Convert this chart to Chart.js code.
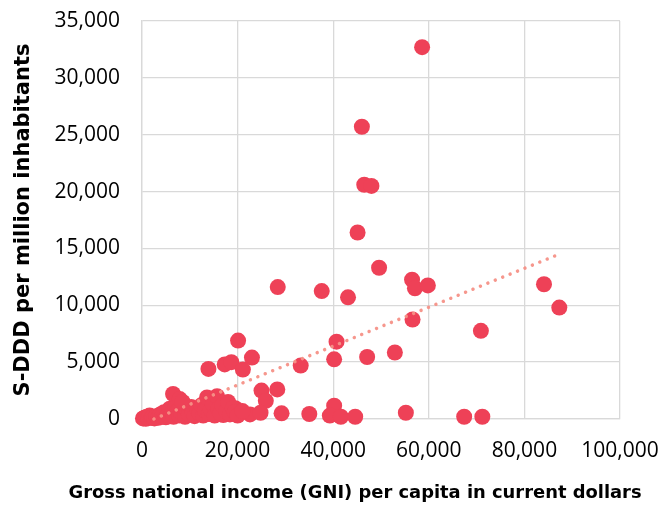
<!DOCTYPE html>
<html>
<head>
<meta charset="utf-8">
<script src="https://cdn.jsdelivr.net/npm/chart.js@4/dist/chart.umd.min.js"></script>
<style>
  html, body { margin: 0; padding: 0; background: #fff; }
  #wrap { width: 662px; height: 506px; }
</style>
</head>
<body>
<div id="wrap"><canvas id="c" width="662" height="506"></canvas></div>
<script>
// GNI per capita (current US$) for each country
const gniPerCapita = [
  58600, 46000, 46500, 48000, 45100, 49600, 37600, 43100, 56500, 57100, 59800,
  84100, 87300, 56600, 70900, 40700, 33200, 40200, 47100, 52900,
  35000, 40200, 39300, 41600, 44600, 55200, 67400, 71200,
  28400, 20100, 17300, 18700, 23000, 21100, 13900, 25000, 28300, 25900,
  19500, 22600, 24800, 29200, 17000,
  200, 500, 800, 1000, 1300, 1600, 2000, 2200, 2600, 3000, 3400, 3800, 4200,
  4600, 5000, 5400, 5800, 6200, 6600, 7000, 7400, 7800, 8200, 8600, 9000,
  9400, 9800, 10300, 10600, 11000, 11500, 12000, 12400, 12800, 13200, 13600,
  14000, 14400, 14800, 15200, 15700, 16000, 16400, 16800, 17600, 18000,
  18400, 19000, 19400, 20000, 6500, 7900, 8500, 21000
];
// S-DDD per million inhabitants for the same countries
const sdddPerMillion = [
  32700, 25700, 20600, 20500, 16400, 13300, 11250, 10700, 12250, 11500, 11750,
  11850, 9800, 8750, 7750, 6800, 4700, 5250, 5450, 5850,
  440, 1170, 300, 200, 200, 550, 200, 200,
  11600, 6900, 4800, 5000, 5400, 4350, 4400, 2500, 2600, 1600,
  950, 400, 550, 500, 350,
  50, 100, 20, 200, 80, 300, 100, 150, 50, 250, 100, 400, 200,
  600, 150, 350, 900, 500, 200, 1100, 700, 300, 550, 1000, 200,
  800, 400, 1050, 600, 250, 900, 500, 1200, 300, 750, 1900,
  450, 800, 1300, 300, 2000, 900, 500, 1200, 700, 1500,
  400, 960, 600, 300, 2200, 1750, 1500, 700
];
// Linear trend line end points
const trendX = [2500, 87300];
const trendY = [0, 14500];
// Axis ticks
const xTicks = [0, 20000, 40000, 60000, 80000, 100000];
const yTicks = [0, 5000, 10000, 15000, 20000, 25000, 30000, 35000];
// Axis titles
const xTitle = 'Gross national income (GNI) per capita in current dollars';
const yTitle = 'S-DDD per million inhabitants';

const points = gniPerCapita.map((x, i) => ({ x: x, y: sdddPerMillion[i] }));
const trend = trendX.map((x, i) => ({ x: x, y: trendY[i] }));

const gridColor = '#d9d9d9';
const fmt = v => Number(v).toLocaleString('en-US');
const xTitleSize = 17.9;
const xTitleBox = xTitleSize * 1.2 + 2;

new Chart(document.getElementById('c'), {
  type: 'scatter',
  data: {
    datasets: [
      {
        type: 'line',
        label: 'Trend',
        data: trend,
        borderColor: 'rgba(245,145,135,0.95)',
        borderWidth: 3.5,
        borderDash: [0.01, 8],
        borderCapStyle: 'round',
        pointRadius: 0,
        fill: false,
        tension: 0,
        clip: false
      },
      {
        label: 'S-DDD',
        data: points,
        backgroundColor: '#EE4157',
        borderWidth: 0,
        pointRadius: 8,
        pointHoverRadius: 8,
        clip: false
      }
    ]
  },
  options: {
    responsive: false,
    animation: false,
    events: [],
    layout: { padding: 0 },
    plugins: {
      legend: { display: false },
      tooltip: { enabled: false },
      // x-axis title (wider than the plot area, so drawn as the bottom chart title)
      title: {
        display: true,
        position: 'bottom',
        align: 'start',
        fullSize: true,
        text: '\u00a0\u00a0\u00a0\u00a0\u00a0\u00a0\u00a0\u00a0\u00a0\u00a0\u00a0' + xTitle,
        color: '#000',
        font: { family: 'DejaVu Sans', size: xTitleSize, weight: 'bold', lineHeight: 1.2 },
        padding: { top: 0, bottom: 2 }
      }
    },
    scales: {
      x: {
        type: 'linear',
        min: 0, max: 100000,
        afterBuildTicks: s => { s.ticks = xTicks.map(v => ({ value: v })); },
        afterFit: s => { s.height = 506 - 419 - xTitleBox; s.paddingLeft = 0; s.paddingRight = 42; },
        grid: { color: gridColor, lineWidth: 1.3, drawTicks: false },
        border: { color: gridColor, width: 1.3 },
        ticks: { color: '#000', padding: 19, font: { family: 'Open Sans', size: 21 }, callback: fmt, maxRotation: 0 }
      },
      y: {
        type: 'linear',
        min: 0, max: 35000,
        afterBuildTicks: s => { s.ticks = yTicks.map(v => ({ value: v })); },
        afterFit: s => { s.width = 142; s.paddingTop = 21; s.paddingBottom = 0; },
        grid: { color: gridColor, lineWidth: 1.3, drawTicks: false },
        border: { color: gridColor, width: 1.3 },
        ticks: { color: '#000', padding: 22, font: { family: 'Open Sans', size: 21 }, callback: fmt },
        title: { display: true, text: yTitle, color: '#000',
                 font: { family: 'DejaVu Sans', size: 21, weight: 'bold' }, padding: { top: 10.5, bottom: 0 } }
      }
    }
  }
});
</script>
</body>
</html>
